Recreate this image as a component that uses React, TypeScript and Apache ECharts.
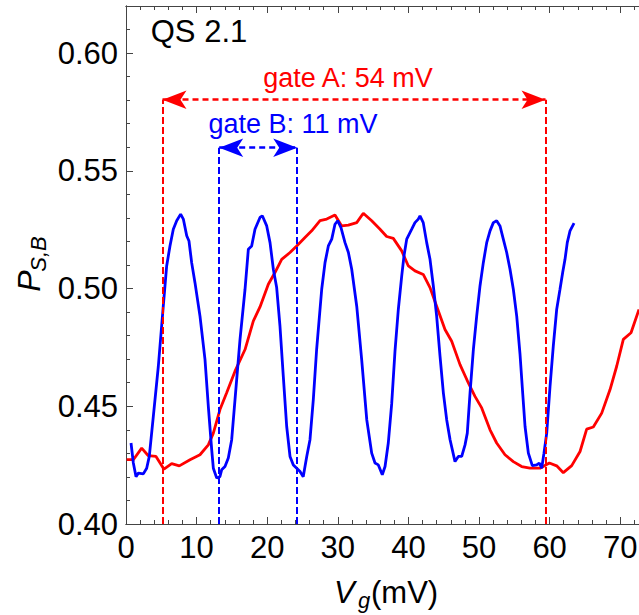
import React, { useEffect, useRef } from "react";
import * as echarts from "echarts";

// ---- data ----
const blueX = [0.71, 1.04, 1.42, 1.75, 2.45, 2.93, 3.3, 3.87, 4.58, 5.28, 5.76, 6.23, 6.7, 7.18, 7.74, 8.12, 8.6, 8.92, 9.3, 9.77, 10.48, 11.19, 11.66, 12.14, 12.37, 12.85, 13.3, 13.55, 14.02, 14.49, 14.97, 15.44, 16.15, 16.86, 17.33, 17.8, 18.27, 18.98, 19.31, 19.93, 20.4, 20.87, 21.34, 21.81, 22.28, 22.76, 23.23, 23.7, 24.18, 24.65, 25.1, 25.6, 26.06, 26.53, 27.0, 27.72, 28.19, 28.66, 29.14, 29.6, 29.98, 30.45, 31.02, 31.5, 31.97, 32.68, 33.38, 34.1, 34.8, 35.27, 35.74, 36.3, 36.69, 37.15, 37.63, 38.1, 38.57, 39.05, 39.37, 39.76, 39.99, 40.47, 40.93, 41.4, 41.64, 42.1, 42.59, 43.06, 43.53, 44.0, 44.48, 44.95, 45.42, 45.9, 46.6, 47.07, 47.55, 48.02, 48.34, 48.73, 49.2, 49.67, 50.14, 50.61, 51.09, 51.56, 52.03, 52.5, 52.97, 53.44, 53.92, 54.39, 54.86, 55.34, 55.81, 56.2, 56.52, 56.99, 57.55, 58.17, 58.54, 58.88, 59.2, 59.59, 60.06, 60.52, 61.0, 61.47, 61.85, 62.18, 62.5, 62.89, 63.46];
const blueY = [0.4344, 0.4259, 0.4201, 0.4216, 0.4213, 0.4237, 0.4287, 0.4457, 0.467, 0.4925, 0.5096, 0.5181, 0.5252, 0.5288, 0.5316, 0.5295, 0.5224, 0.5202, 0.511, 0.5025, 0.4883, 0.4698, 0.45, 0.4315, 0.4237, 0.4195, 0.4201, 0.423, 0.4244, 0.428, 0.4358, 0.4528, 0.4784, 0.4997, 0.5167, 0.5181, 0.5252, 0.5302, 0.5309, 0.5266, 0.5195, 0.5082, 0.5004, 0.484, 0.4627, 0.4414, 0.4287, 0.4251, 0.4237, 0.4223, 0.4201, 0.4287, 0.4358, 0.4528, 0.4741, 0.4997, 0.511, 0.5181, 0.521, 0.5273, 0.5288, 0.5259, 0.5195, 0.5153, 0.5082, 0.4925, 0.4698, 0.4443, 0.4301, 0.4259, 0.4251, 0.4209, 0.4244, 0.4344, 0.451, 0.4734, 0.4911, 0.5053, 0.5138, 0.521, 0.5224, 0.5252, 0.528, 0.5295, 0.5309, 0.528, 0.5195, 0.5124, 0.5011, 0.4883, 0.4712, 0.4557, 0.4443, 0.4358, 0.4265, 0.4287, 0.4287, 0.4336, 0.4386, 0.4557, 0.4741, 0.4883, 0.5011, 0.511, 0.5195, 0.5245, 0.528, 0.5288, 0.5266, 0.521, 0.5153, 0.5082, 0.4997, 0.4883, 0.472, 0.455, 0.4414, 0.4301, 0.4248, 0.4251, 0.4259, 0.4237, 0.4301, 0.4386, 0.4585, 0.4755, 0.4911, 0.4997, 0.5068, 0.5124, 0.5195, 0.5245, 0.5278];

const redX = [0.1, 1.04, 2.22, 3.16, 4.25, 5.38, 6.47, 7.55, 9.07, 10.48, 11.66, 12.37, 13.31, 14.26, 15.44, 16.86, 18.03, 18.98, 20.16, 21.1, 22.05, 23.23, 24.18, 25.35, 26.3, 27.48, 28.43, 29.6, 30.55, 31.49, 32.68, 33.61, 34.8, 35.98, 36.92, 37.86, 39.05, 39.99, 40.93, 42.1, 43.06, 44.0, 45.18, 46.13, 47.31, 48.49, 49.43, 50.38, 51.56, 52.5, 53.68, 54.86, 56.04, 57.22, 58.64, 59.96, 61.0, 61.94, 63.13, 64.31, 65.25, 66.19, 67.38, 68.56, 69.5, 70.44, 71.53, 72.66];
const redY = [0.4273, 0.4273, 0.4322, 0.429, 0.4287, 0.4233, 0.4256, 0.4247, 0.4273, 0.4294, 0.4336, 0.4386, 0.4486, 0.4557, 0.4649, 0.4741, 0.4862, 0.4922, 0.5018, 0.5068, 0.5124, 0.5153, 0.5181, 0.5217, 0.5245, 0.5288, 0.5295, 0.5312, 0.5266, 0.5269, 0.528, 0.532, 0.5288, 0.5252, 0.5221, 0.5213, 0.516, 0.5096, 0.5075, 0.506, 0.5004, 0.4925, 0.4826, 0.4776, 0.4677, 0.4599, 0.4542, 0.4493, 0.44, 0.4344, 0.4294, 0.4265, 0.4244, 0.4237, 0.4237, 0.4259, 0.4247, 0.4218, 0.4248, 0.4308, 0.4403, 0.4412, 0.4471, 0.4571, 0.467, 0.4784, 0.4812, 0.4911];

const gateA = [5.17, 59.42]; // mV
const gateAY = 0.5802;
const gateB = [13.2, 24.25]; // mV
const gateBY = 0.5598;

const X_MIN = 0;
const X_MAX = 72.66;
const Y_MIN = 0.4;
const Y_MAX = 0.62;

const RED = "#ff0000";
const BLUE = "#0000ff";
const AX = "#444444";
const FONT = "Liberation Sans";

const zip = (xs: number[], ys: number[]) => xs.map((x, i) => [x, ys[i]]);

const isMultiple = (v: number, step: number) => Math.abs(v / step - Math.round(v / step)) < 1e-6;

function makeX(position: "top" | "bottom", interval: number, tickLen: number, labels: boolean) {
  return {
    type: "value",
    position,
    min: X_MIN,
    max: X_MAX,
    interval,
    axisLine: { show: true, onZero: false, lineStyle: { color: AX, width: 1 } },
    axisTick: { show: true, inside: true, length: tickLen, lineStyle: { color: AX, width: 1 } },
    axisLabel: labels
      ? {
          show: true,
          fontSize: 31,
          color: "#000",
          fontFamily: FONT,
          margin: 8,
          showMaxLabel: false,
          formatter: (v: number) => (isMultiple(v, 10) ? String(Math.round(v)) : ""),
        }
      : { show: false },
    splitLine: { show: false },
  };
}

function makeY(interval: number, tickLen: number, labels: boolean) {
  return {
    type: "value",
    position: "left",
    min: Y_MIN,
    max: Y_MAX,
    interval,
    axisLine: { show: true, onZero: false, lineStyle: { color: AX, width: 1 } },
    axisTick: { show: true, inside: true, length: tickLen, lineStyle: { color: AX, width: 1 } },
    axisLabel: labels
      ? {
          show: true,
          fontSize: 31,
          color: "#000",
          fontFamily: FONT,
          margin: 8,
          showMaxLabel: false,
          formatter: (v: number) => (isMultiple(v, 0.05) ? v.toFixed(2) : ""),
        }
      : { show: false },
    splitLine: { show: false },
  };
}

function gateMarkLine(color: string, xs: number[], yTop: number) {
  const vStyle = { color, width: 2, type: [7, 3] };
  const hStyle = { color, width: 2.5, type: [6, 4] };
  return {
    silent: true,
    animation: false,
    symbol: ["none", "none"],
    symbolSize: [14, 24],
    label: { show: false },
    emphasis: { disabled: true },
    lineStyle: vStyle,
    itemStyle: { color },
    data: [
      [{ coord: [xs[0], Y_MIN], lineStyle: vStyle }, { coord: [xs[0], yTop] }],
      [{ coord: [xs[1], Y_MIN], lineStyle: vStyle }, { coord: [xs[1], yTop] }],
      [
        { coord: [xs[0], yTop], symbol: "arrow", lineStyle: hStyle },
        { coord: [xs[1], yTop], symbol: "arrow" },
      ],
    ],
  };
}

export default function App() {
  const ref = useRef<HTMLDivElement>(null);

  useEffect(() => {
    if (!ref.current) return;
    const chart = echarts.init(ref.current, null, { renderer: "svg" });
    const option: any = {
      animation: false,
      textStyle: { fontFamily: FONT },
      grid: {
        left: 126,
        top: 6,
        right: 0,
        bottom: 91,
        containLabel: false,
        outerBoundsMode: "none",
      },
      xAxis: [
        makeX("bottom", 10, 7, true),
        makeX("bottom", 2, 4, false),
        makeX("top", 10, 7, false),
        makeX("top", 2, 4, false),
      ],
      yAxis: [makeY(0.05, 7, true), makeY(0.01, 4, false)],
      series: [
        {
          type: "line",
          name: "gate B",
          xAxisIndex: 0,
          yAxisIndex: 0,
          data: zip(blueX, blueY),
          showSymbol: false,
          symbol: "none",
          lineStyle: { color: BLUE, width: 2.8 },
          itemStyle: { color: BLUE },
          markLine: gateMarkLine(BLUE, gateB, gateBY),
          z: 3,
        },
        {
          type: "line",
          name: "gate A",
          xAxisIndex: 0,
          yAxisIndex: 0,
          data: zip(redX, redY),
          showSymbol: false,
          symbol: "none",
          lineStyle: { color: RED, width: 2.8 },
          itemStyle: { color: RED },
          markLine: gateMarkLine(RED, gateA, gateAY),
          z: 2,
        },
      ],
      graphic: [
        {
          type: "text",
          x: 199,
          y: 31,
          style: { text: "QS 2.1", fill: "#000", font: `31px "${FONT}"`, align: "center", verticalAlign: "middle" },
        },
        {
          type: "text",
          x: 348,
          y: 78,
          style: { text: "gate A: 54 mV", fill: RED, font: `27px "${FONT}"`, align: "center", verticalAlign: "middle" },
        },
        {
          type: "text",
          x: 293,
          y: 124,
          style: { text: "gate B: 11 mV", fill: BLUE, font: `27px "${FONT}"`, align: "center", verticalAlign: "middle" },
        },
        // x axis title: V_g (mV)
        {
          type: "text",
          x: 334,
          y: 592,
          style: { text: "V", fill: "#000", font: `italic 31px "${FONT}"`, align: "left", verticalAlign: "middle" },
        },
        {
          type: "text",
          x: 358,
          y: 600,
          style: { text: "g", fill: "#000", font: `italic 22px "${FONT}"`, align: "left", verticalAlign: "middle" },
        },
        {
          type: "text",
          x: 371,
          y: 592,
          style: { text: "(mV)", fill: "#000", font: `31px "${FONT}"`, align: "left", verticalAlign: "middle" },
        },
        // y axis title: P_{S,B}
        {
          type: "text",
          x: 29,
          y: 281,
          rotation: Math.PI / 2,
          style: { text: "P", fill: "#000", font: `italic 32px "${FONT}"`, align: "center", verticalAlign: "middle" },
        },
        {
          type: "text",
          x: 38,
          y: 254,
          rotation: Math.PI / 2,
          style: { text: "S,B", fill: "#000", font: `italic 22px "${FONT}"`, align: "center", verticalAlign: "middle" },
        },
      ],
    };
    chart.setOption(option);
    return () => chart.dispose();
  }, []);

  return (
    <div
      ref={ref}
      style={{ position: "absolute", left: 0, top: 0, width: 639, height: 615, background: "#fff" }}
    />
  );
}
